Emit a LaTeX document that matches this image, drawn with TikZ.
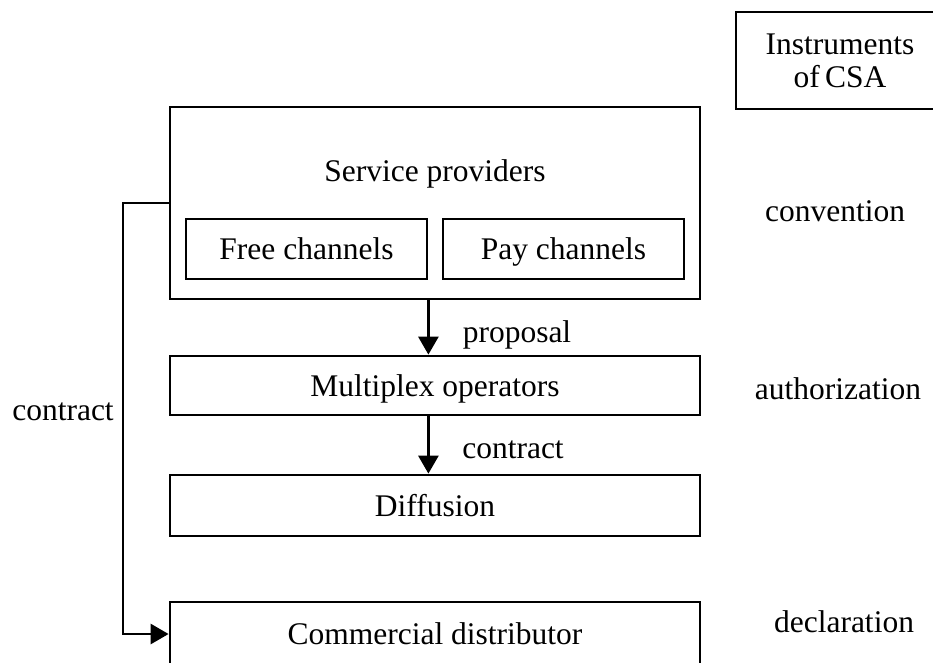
\documentclass[tikz,border=0pt]{standalone}
\usepackage{fontspec}
\setmainfont{Liberation Serif}
\usetikzlibrary{arrows.meta}
\tikzset{
  box/.style={draw, line width=2.8pt, rectangle, inner sep=0pt, minimum width=#1},
  txtf/.style={inner sep=0pt, font=\fontsize{31.5}{35}\selectfont},
  txt/.style={txtf, text height=21pt, text depth=0pt},
  arr/.style={line width=2.8pt, -{Triangle[length=18pt,width=20pt]}},
  ln/.style={line width=2.8pt}
}
\begin{document}
\begin{tikzpicture}[x=1pt,y=-1pt]
\useasboundingbox (0,0) rectangle (933,662);
\clip (0,0) rectangle (933,662);
% Instruments box
\node[box=208pt, minimum height=97pt, txtf, align=center] (ins) at (840,60.5) {\raisebox{-3pt}{Instruments}\\[1pt]of\,CSA};
% Service providers
\node[box=530pt, minimum height=192pt] (sp) at (435,203) {};
\node[txt] (spt) at (435,171) {Service providers};
\node[box=241pt, minimum height=60pt, txt] (fc) at (306.5,249) {Free channels};
\node[box=241pt, minimum height=60pt, txt] (pc) at (563.5,249) {Pay channels};
% Multiplex, Diffusion, Commercial
\node[box=530pt, minimum height=59pt, txt] (mux) at (435,385.5) {Multiplex operators};
\node[box=530pt, minimum height=61pt, txt] (dif) at (435,505.5) {Diffusion};
\node[box=530pt, minimum height=64pt, txt] (cd) at (435,634) {Commercial distributor};
% arrows
\draw[arr] (sp.south -| fc.east) -- (mux.north -| fc.east);
\draw[arr] (mux.south -| fc.east) -- (dif.north -| fc.east);
\coordinate (corner) at (123,203);
\draw[arr] (sp.west) -- (corner) |- (cd.west);
% labels
\node[txt] (lprop) at (517,332) {proposal};
\node[txt] (lcon) at (513,448) {contract};
\node[txt] (lcon2) at (63,410) {contract};
\node[txt] (lconv) at (835,211) {convention};
\node[txt] (lauth) at (838,389) {authorization};
\node[txt] (ldecl) at (844,622) {declaration};
\end{tikzpicture}
\end{document}
